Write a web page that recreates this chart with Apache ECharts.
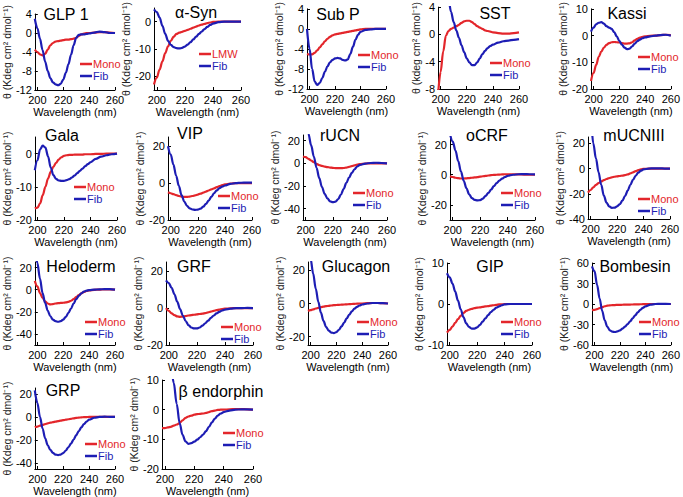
<!DOCTYPE html>
<html><head><meta charset="utf-8">
<script src="https://cdn.jsdelivr.net/npm/echarts@6/dist/echarts.min.js"></script>
<style>html,body{margin:0;padding:0;background:#fff}#c{width:683px;height:497px}</style>
</head><body><div id="c"></div>
<script>
// ---------- data ----------
const wavelengths = [198,200,202,204,206,208,210,212,214,216,218,220,222,224,226,228,230,232,234,236,238,240,244,248,252,256,260];
const xTickLabels = [200,220,240,260];
const panelTitles = ['GLP 1','α-Syn','Sub P','SST','Kassi','Gala','VIP','rUCN','oCRF','mUCNIII','Heloderm','GRF','Glucagon','GIP','Bombesin','GRP','β endorphin'];
const monoNames = ['Mono','LMW','Mono','Mono','Mono','Mono','Mono','Mono','Mono','Mono','Mono','Mono','Mono','Mono','Mono','Mono','Mono'];
const fibName = 'Fib';
const yAxisTitle = 'θ (Kdeg cm² dmol⁻¹)';
const yAxisTitleSST = 'θ (kdeg cm² dmol⁻¹)';
const xAxisTitle = 'Wavelength (nm)';

const glp1Mono = [-3.5,-4.0,-4.5,-4.7,-4.4,-3.5,-2.6,-2.1,-1.8,-1.7,-1.6,-1.5,-1.4,-1.4,-1.3,-1.2,-1.0,-0.6,-0.3,-0.1,0,0,0.1,0.2,0.2,0.1,0];
const glp1Fib  = [3.0,1.0,-1.2,-3.6,-6.0,-8.0,-9.5,-10.4,-10.8,-11.0,-10.7,-9.8,-8.4,-6.6,-4.6,-2.6,-1.0,-0.4,-0.3,-0.3,-0.2,-0.1,0.1,0.3,0.2,0,0];
const asynLmw  = [-23,-20.5,-17.5,-14.5,-11.5,-9,-7,-5.5,-4.5,-4,-3.7,-3.4,-3,-2.6,-2.2,-1.8,-1.4,-1.1,-0.8,-0.5,-0.3,-0.1,0,0,0,0,0];
const asynFib  = [4.5,3.5,1.5,-1.5,-4.5,-7,-8.5,-9.3,-9.7,-9.8,-9.6,-9.1,-8.4,-7.5,-6.5,-5.5,-4.5,-3.6,-2.7,-1.9,-1.2,-0.7,-0.2,0,0,0,0];
const subpMono = [-5,-5.1,-5.1,-4.8,-4.3,-3.7,-3.1,-2.5,-2.0,-1.6,-1.3,-1.1,-1.0,-0.9,-0.8,-0.7,-0.6,-0.5,-0.4,-0.3,-0.2,-0.1,0,0,0,0,0];
const subpFib  = [0,-4,-8,-10.5,-11.2,-10.8,-9.8,-8.6,-7.5,-6.7,-6.2,-5.9,-5.8,-5.9,-6.2,-6.3,-6.1,-5.0,-3.6,-2.2,-1.2,-0.6,-0.2,-0.1,0,0,0];
const sstMono  = [-9,-5.5,-2.5,-0.2,0.5,0.8,1.0,1.2,1.4,1.7,1.9,2.0,2.0,1.8,1.5,1.2,1.0,0.8,0.6,0.5,0.4,0.3,0.2,0.1,0.1,0.2,0.3];
const sstFib   = [14,12,10,7.5,5.2,3.3,1.8,0.6,-0.5,-1.6,-2.6,-3.5,-4.1,-4.5,-4.5,-4.1,-3.5,-2.9,-2.4,-2.0,-1.7,-1.5,-1.2,-1.0,-0.9,-0.8,-0.7];
const kassiMono= [-17,-14,-11,-8,-6,-4.5,-3.5,-2.8,-2.5,-2.4,-2.5,-2.6,-2.8,-3.0,-3.0,-2.9,-2.5,-1.8,-1.2,-0.8,-0.5,-0.3,-0.1,0,0.2,0.3,0.2];
const kassiFib = [1.5,3,4.2,4.8,5,4.5,3.5,3,2.5,1.3,-0.3,-2.0,-3.4,-4.5,-5.1,-4.9,-4,-3,-2.1,-1.5,-1.0,-0.7,-0.3,0,0.2,0.3,0];
const galaMono = [-16.5,-16.3,-15,-12.5,-10,-7.5,-5.5,-4,-2.8,-1.8,-1.1,-0.7,-0.5,-0.4,-0.4,-0.3,-0.3,-0.3,-0.3,-0.2,-0.2,-0.2,-0.1,-0.1,0,0,0];
const galaFib  = [-5,-2,1.3,2.4,1.8,-0.8,-4.2,-6.5,-7.6,-8.1,-8.2,-8.2,-8,-7.7,-7.2,-6.6,-5.9,-5.2,-4.5,-3.8,-3.2,-2.6,-1.6,-0.9,-0.5,-0.2,0];
const vipMono  = [-5,-5.5,-6,-6.5,-7,-7.3,-7.5,-7.5,-7.3,-7,-6.6,-6.2,-5.7,-5.2,-4.6,-4,-3.4,-2.8,-2.2,-1.6,-1.1,-0.7,-0.2,0,0,0,0];
const vipFib   = [20,15.5,10,4,-1.5,-6.5,-10,-12.3,-13.7,-14.3,-14.5,-14.4,-13.8,-12.8,-11.3,-9.5,-7.5,-5.5,-3.9,-2.7,-1.9,-1.3,-0.4,0,0.2,0.3,0.3];
const rucnMono = [6,5.5,4,2.5,1,-0.5,-1.5,-2.3,-2.9,-3.3,-3.7,-4,-4.2,-4.3,-4.3,-4.1,-3.7,-3.1,-2.5,-1.8,-1.2,-0.7,-0.2,0,0,0,0];
const rucnFib  = [50,40,26,16,6,-4,-13,-21,-27,-31,-33.5,-34.3,-33.8,-31.5,-27.5,-22.5,-17.3,-12.5,-8.5,-5.2,-2.8,-1.3,-0.2,0.3,0.5,0.3,0];
const ocrfMono = [-1,-1.5,-2,-2.3,-2.5,-2.5,-2.4,-2.2,-2,-1.8,-1.6,-1.3,-1.0,-0.8,-0.5,-0.3,-0.1,0,0.1,0.2,0.3,0.3,0.3,0.2,0.1,0,0];
const ocrfFib  = [27,22,16,9,2,-4,-9,-13,-15.5,-16.7,-17,-16.8,-15.8,-14,-12,-9.8,-7.6,-5.6,-3.9,-2.6,-1.5,-0.8,0,0.3,0.4,0.3,0.2];
const mucnMono = [-19,-17,-15,-13,-11.5,-10.2,-9.2,-8.3,-7.6,-7,-6.5,-6.2,-5.9,-5.6,-5.2,-4.7,-3.9,-3,-2.1,-1.3,-0.7,-0.3,0,0,0,0,0];
const mucnFib  = [60,40,20,8,-3,-13,-21.5,-27,-30,-31.2,-31,-30,-28.3,-25.5,-21.8,-17.5,-13,-9,-5.7,-3.3,-1.7,-0.7,0,0.2,0.2,0,0];
const heloMono = [8,3,-3,-7.5,-10.5,-12.5,-13.3,-13,-12.5,-12.2,-12,-11.8,-11.5,-11,-10,-8.6,-6.8,-5,-3.4,-2.1,-1.2,-0.6,-0.1,0,0.3,0.3,0];
const heloFib  = [40,24,10,-3,-12,-19,-24,-27,-28.5,-29,-28.5,-27,-24.5,-21,-17,-12.5,-8.5,-5.5,-3.3,-1.8,-0.9,-0.4,0,0.3,0.5,0.5,0];
const grfMono  = [0,-1.5,-2.8,-3.8,-4.5,-4.7,-4.6,-4.3,-4,-3.8,-3.6,-3.4,-3.2,-3,-2.7,-2.3,-1.9,-1.5,-1.1,-0.8,-0.5,-0.3,-0.1,0,0,0,0];
const grfFib   = [15,13.5,11,7.5,3.5,-0.5,-4,-7,-9.2,-10.5,-11,-11,-10.5,-9.5,-8.2,-6.8,-5.3,-4,-2.9,-2,-1.3,-0.8,-0.3,0,0,0.1,0];
const glucMono = [-4.5,-4,-3.5,-3,-2.6,-2.2,-1.9,-1.6,-1.4,-1.2,-1.0,-0.9,-0.8,-0.7,-0.6,-0.5,-0.4,-0.3,-0.2,-0.1,0,0,0.2,0.3,0.3,0.2,0];
const glucFib  = [40,27,18,9,1,-5.5,-10.5,-14,-16.3,-17.5,-17.8,-17.3,-15.8,-13.8,-11.5,-9,-6.7,-4.7,-3.1,-2,-1.2,-0.6,0,0.3,0.3,0.2,0];
const gipMono  = [-7,-6.3,-5.5,-4.6,-3.7,-2.9,-2.2,-1.7,-1.4,-1.2,-1.0,-0.9,-0.8,-0.7,-0.6,-0.5,-0.4,-0.3,-0.2,-0.1,-0.1,0,0,0,0,0,0];
const gipFib   = [7.5,6.5,5,3,0.8,-1.3,-3.2,-4.7,-5.6,-6,-6,-5.7,-5.1,-4.3,-3.5,-2.7,-2,-1.4,-0.9,-0.6,-0.3,-0.1,0,0,0,0,0];
const bombMono = [-9,-8.5,-7.5,-6,-4.5,-3.3,-2.5,-2,-1.7,-1.5,-1.3,-1.2,-1.1,-1.0,-0.9,-0.8,-0.7,-0.6,-0.5,-0.4,-0.3,-0.2,0,0,0,0,0];
const bombFib  = [55,48,28,8,-10,-24,-33,-38.5,-40.5,-41,-40.2,-38.5,-36,-33,-29.5,-25.5,-21,-16.5,-12.3,-8.6,-5.6,-3.4,-1,0,0.3,0.2,0];
const grpMono  = [-9,-8.3,-7.6,-6.9,-6.2,-5.6,-5.0,-4.5,-4.0,-3.6,-3.2,-2.8,-2.4,-2.0,-1.6,-1.2,-0.9,-0.6,-0.4,-0.2,-0.1,0,0,0,0,0,0];
const grpFib   = [23,12,0,-10,-18.5,-24.5,-28.5,-31,-32.5,-33,-32.5,-31.2,-29,-26.2,-23,-19.5,-15.8,-12.2,-9,-6.2,-4,-2.4,-0.7,0,0.2,0.1,0];
const bendMono = [-6.2,-6.2,-6,-5.8,-5.4,-5,-4.5,-3.6,-2.8,-2.3,-2,-1.7,-1.5,-1.4,-1.3,-1.1,-0.8,-0.5,-0.3,-0.1,0,0,0.1,0.2,0.2,0.1,0];
const bendFib  = [40,30,22,15,9,2,-4.5,-8.5,-10.7,-11.5,-11.3,-10.8,-10.1,-9.3,-8.4,-7.2,-5.8,-4.3,-3,-2,-1.3,-0.8,-0.3,0,0.1,0.1,0];

const yTicks4 = [-12,-8,-4,0,4];
const yTicksAsyn = [-20,-10,0];
const yTicksSST = [-8,-4,0,4];
const yTicksKassi = [-20,-10,0,10];
const yTicks20 = [-20,0,20];
const yTicks40 = [-40,-20,0,20];
const yTicksGIP = [-10,0,10];
const yTicksBomb = [-60,-30,0,30,60];
const yTicksBend = [-20,-10,0,10];

const monoSeries = [glp1Mono,asynLmw,subpMono,sstMono,kassiMono,galaMono,vipMono,rucnMono,ocrfMono,mucnMono,heloMono,grfMono,glucMono,gipMono,bombMono,grpMono,bendMono];
const fibSeries  = [glp1Fib,asynFib,subpFib,sstFib,kassiFib,galaFib,vipFib,rucnFib,ocrfFib,mucnFib,heloFib,grfFib,glucFib,gipFib,bombFib,grpFib,bendFib];
const yTickSets  = [yTicks4,yTicksAsyn,yTicks4,yTicksSST,yTicksKassi,yTicksAsyn,yTicks20,yTicks40,yTicks20,yTicks40,yTicks40,yTicks20,yTicks20,yTicksGIP,yTicksBomb,yTicks40,yTicksBend];

// ---------- layout (pixels) ----------
const layout = [
 {ax:31, xr:115, top:14, bot:90, ymin:-12, ymax:4,  ng:17, tx:66,  ty:14, lx:94,  ly:64},
 {ax:154,xr:241, top:8,  bot:90, ymin:-25, ymax:5,  ng:15, tx:196, ty:12, lx:213, ly:54},
 {ax:307,xr:386, top:6,  bot:89, ymin:-12, ymax:4,  ng:19, tx:338, ty:14, lx:372, ly:55},
 {ax:438,xr:519, top:5,  bot:89, ymin:-8,  ymax:4,  ng:12, tx:495, ty:13, lx:504, ly:63},
 {ax:591,xr:673, top:5,  bot:89, ymin:-20, ymax:10, ng:15, tx:627, ty:13, lx:652, ly:57},
 {ax:33, xr:117, top:137,bot:220,ymin:-20, ymax:5,  ng:19, tx:62,  ty:135,lx:88,  ly:187},
 {ax:168,xr:252, top:137,bot:220,ymin:-20, ymax:25, ng:16, tx:190, ty:133,lx:232, ly:196},
 {ax:303,xr:387, top:135,bot:220,ymin:-50, ymax:25, ng:17, tx:340, ty:135,lx:367, ly:193},
 {ax:450,xr:535, top:137,bot:220,ymin:-30, ymax:25, ng:19, tx:487, ty:135,lx:515, ly:193},
 {ax:588,xr:670, top:137,bot:219,ymin:-40, ymax:25, ng:19, tx:634, ty:135,lx:652, ly:199},
 {ax:31, xr:115, top:262,bot:345,ymin:-50, ymax:25, ng:16, tx:81,  ty:266,lx:99,  ly:322},
 {ax:166,xr:253, top:262,bot:345,ymin:-20, ymax:25, ng:14, tx:194, ty:266,lx:235, ly:327},
 {ax:308,xr:388, top:262,bot:345,ymin:-25, ymax:25, ng:18, tx:356, ty:266,lx:371, ly:322},
 {ax:447,xr:532, top:263,bot:345,ymin:-10, ymax:10, ng:14, tx:490, ty:266,lx:515, ly:322},
 {ax:592,xr:674, top:263,bot:345,ymin:-60, ymax:60, ng:21, tx:635, ty:266,lx:653, ly:322},
 {ax:28, xr:115, top:388,bot:472,ymin:-45, ymax:25, ng:15, tx:63,  ty:390,lx:99,  ly:444},
 {ax:162,xr:253, top:380,bot:470,ymin:-20, ymax:10, ng:19, tx:221, ty:391,lx:237, ly:433}
];

const RED = '#e3262b', BLUE = '#1d1db4';
const FONT = 'Liberation Sans, Arial, Helvetica, sans-serif';
const XMIN = 198, XMAX = 260;

const grid = [], xAxis = [], yAxis = [], series = [], legend = [], texts = [];
layout.forEach((L, i) => {
  grid.push({left: L.ax, top: L.top, width: L.xr - L.ax, height: L.bot - L.top});
  xAxis.push({
    type: 'value', gridIndex: i, min: XMIN, max: XMAX,
    axisLine: {show: true, onZero: false, lineStyle: {color: '#000', width: 1}},
    axisTick: {show: true, inside: true, length: 3, customValues: xTickLabels, lineStyle: {color: '#000'}},
    axisLabel: {customValues: xTickLabels, fontSize: 11, color: '#000', margin: 4, fontFamily: FONT},
    splitLine: {show: false},
    name: xAxisTitle, nameLocation: 'middle', nameGap: 16,
    nameTextStyle: {fontSize: 11, color: '#000', fontFamily: FONT}
  });
  yAxis.push({
    type: 'value', gridIndex: i, min: L.ymin, max: L.ymax,
    axisLine: {show: true, onZero: false, lineStyle: {color: '#000', width: 1}},
    axisTick: {show: true, inside: true, length: 3, customValues: yTickSets[i], lineStyle: {color: '#000'}},
    axisLabel: {customValues: yTickSets[i], fontSize: 11, color: '#000', margin: 3, fontFamily: FONT},
    splitLine: {show: false},
    name: i === 3 ? yAxisTitleSST : yAxisTitle, nameLocation: 'middle', nameGap: L.ng,
    nameTextStyle: {fontSize: 10.5, color: '#222', fontFamily: FONT}
  });
  const mk = (name, vals, color) => ({
    type: 'line', name, xAxisIndex: i, yAxisIndex: i,
    data: wavelengths.map((w, j) => [w, vals[j]]),
    showSymbol: false, symbol: 'none', smooth: 0.35, smoothMonotone: 'x',
    color, lineStyle: {color, width: 2.2}, itemStyle: {color},
    animation: false, silent: true
  });
  series.push(mk(monoNames[i], monoSeries[i], RED));
  series.push(mk(fibName, fibSeries[i], BLUE));
  legend.push({
    left: L.lx - 14, top: L.ly - 6, orient: 'vertical', padding: 0, itemGap: 0,
    icon: 'rect', itemWidth: 12, itemHeight: 2.5, selectedMode: false,
    textStyle: {fontSize: 11, fontFamily: FONT, lineHeight: 12, padding: [0, 0, 0, -4]},
    data: [
      {name: monoNames[i], textStyle: {color: RED}},
      {name: fibName, textStyle: {color: BLUE}}
    ]
  });
  texts.push({
    type: 'text', x: L.tx, y: L.ty, silent: true,
    style: {text: panelTitles[i], fontSize: 16, fontFamily: FONT, fill: '#000',
            align: 'center', verticalAlign: 'middle', textAlign: 'center', textVerticalAlign: 'middle'}
  });
});

const chart = echarts.init(document.getElementById('c'), null, {renderer: 'svg'});
chart.setOption({
  animation: false,
  backgroundColor: '#fff',
  grid, xAxis, yAxis, series, legend,
  graphic: {elements: texts}
});
</script>
</body></html>
